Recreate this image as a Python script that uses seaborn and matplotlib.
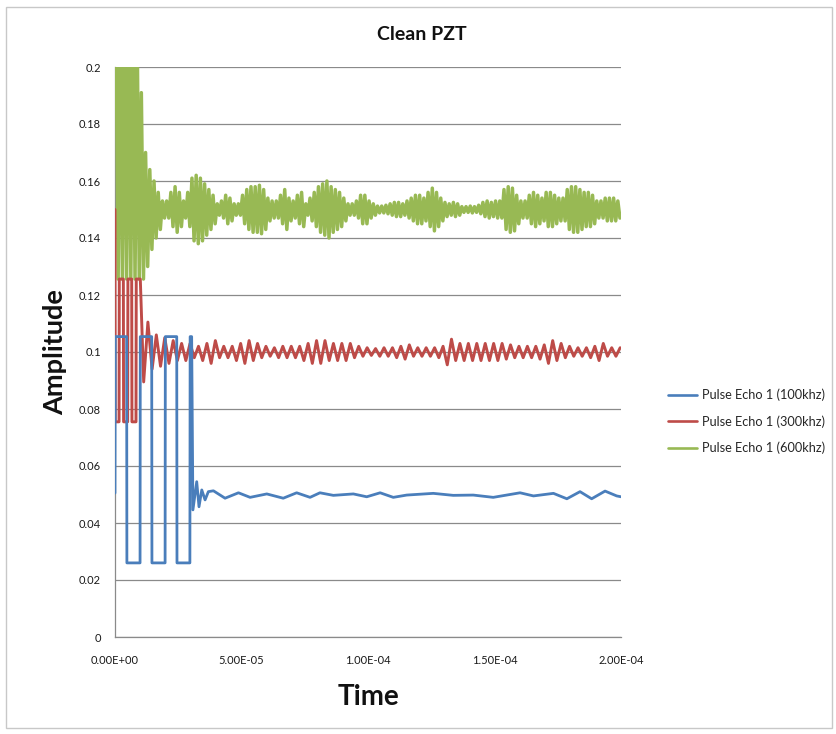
import numpy as np
import pandas as pd
import matplotlib
matplotlib.use("Agg")
import matplotlib.pyplot as plt
import seaborn as sns
from matplotlib.ticker import FuncFormatter, MultipleLocator
from matplotlib.lines import Line2D

# ---------------- data ----------------
series_names = ["Pulse Echo 1 (100khz)", "Pulse Echo 1 (300khz)", "Pulse Echo 1 (600khz)"]
series_colors = ["#4A7EBB", "#BE4B48", "#98B954"]

# 100 kHz echo: time (microseconds) / amplitude breakpoints
blue_t_us = [0.0, 0.1, 4.6, 4.7, 9.9, 10.0, 14.5, 14.6, 19.8, 19.9,
             24.4, 24.5, 29.6, 29.7, 30.3, 30.8, 32.3, 33.2, 34.3, 35.6,
             36.9, 38.9, 43.5, 48.8, 53.4, 60.0, 66.5, 71.8, 77.1, 81.0,
             86.3, 94.2, 99.5, 104.8, 110.0, 115.3, 125.8, 133.7, 141.6, 149.5,
             154.8, 160.1, 165.4, 173.3, 178.6, 183.8, 188.4, 193.7, 198.3, 200.0]
blue_v = [0.0505, 0.1054, 0.1054, 0.0260, 0.0260, 0.1054, 0.1054, 0.0260, 0.0260, 0.1054,
          0.1054, 0.0260, 0.0260, 0.1054, 0.1054, 0.0446, 0.0545, 0.0457, 0.0516, 0.0481,
          0.0510, 0.0513, 0.0487, 0.0506, 0.0490, 0.0502, 0.0487, 0.0506, 0.0490, 0.0506,
          0.0497, 0.0502, 0.0492, 0.0506, 0.0490, 0.0498, 0.0504, 0.0497, 0.0498, 0.0490,
          0.0498, 0.0506, 0.0495, 0.0504, 0.0485, 0.0510, 0.0485, 0.0512, 0.0495, 0.0492]

# 300 kHz echo: saturated burst, then per-cycle ringing amplitude around the baseline
red_head_t_us = [0.0, 0.1, 1.6, 1.7, 3.3, 3.4, 5.0, 5.1, 6.6, 6.7, 8.3, 8.4, 10.0]
red_head_v = [0.150, 0.0755, 0.0755, 0.1256, 0.1256, 0.0755, 0.0755, 0.1256, 0.1256,
              0.0755, 0.0755, 0.1256, 0.1256]
red_center = 0.100
red_tail_start_us = 10.5
red_freq_khz = 300
red_amp = [0.0105, 0.006, 0.005, 0.004, 0.003, 0.003, 0.002, 0.003, 0.004, 0.002,
           0.002, 0.003, 0.004, 0.003, 0.002, 0.0015, 0.002, 0.002, 0.002, 0.003,
           0.004, 0.004, 0.003, 0.003, 0.003, 0.002, 0.0015, 0.0012, 0.0015, 0.0015,
           0.002, 0.0025, 0.0015, 0.0015, 0.0015, 0.002, 0.0045, 0.003, 0.003, 0.003,
           0.003, 0.003, 0.003, 0.0025, 0.002, 0.002, 0.002, 0.0025, 0.004, 0.003,
           0.002, 0.0015, 0.0015, 0.002, 0.003, 0.0015, 0.0015]

# 600 kHz echo: per-cycle peaks (first cycles) and per-cycle amplitude around baseline
green_center = 0.150
green_freq_khz = 600
green_head_hi = [0.215, 0.215, 0.215, 0.215, 0.215, 0.215, 0.191, 0.170, 0.164, 0.160, 0.156, 0.153]
green_head_lo = [0.1256, 0.1256, 0.1256, 0.1256, 0.1256, 0.1256, 0.1256, 0.130, 0.136, 0.140, 0.143, 0.147]
green_amp = [0.003, 0.006, 0.008, 0.006, 0.003, 0.006, 0.011, 0.012, 0.011, 0.009,
             0.007, 0.005, 0.002, 0.003, 0.005, 0.004, 0.002, 0.002, 0.005, 0.007,
             0.008, 0.008, 0.0085, 0.007, 0.004, 0.003, 0.003, 0.005, 0.007, 0.004,
             0.003, 0.005, 0.006, 0.002, 0.004, 0.006, 0.008, 0.009, 0.010, 0.008,
             0.007, 0.006, 0.004, 0.002, 0.002, 0.003, 0.005, 0.005, 0.003, 0.002,
             0.0012, 0.0012, 0.0015, 0.002, 0.0025, 0.0025, 0.002, 0.003, 0.004, 0.005,
             0.005, 0.004, 0.006, 0.0075, 0.006, 0.004, 0.0025, 0.002, 0.0025, 0.002,
             0.001, 0.001, 0.0012, 0.001, 0.0015, 0.0025, 0.003, 0.0025, 0.003, 0.003,
             0.007, 0.008, 0.0075, 0.005, 0.003, 0.003, 0.005, 0.006, 0.005, 0.004,
             0.006, 0.006, 0.005, 0.004, 0.004, 0.007, 0.008, 0.008, 0.007, 0.006,
             0.006, 0.005, 0.003, 0.003, 0.004, 0.004, 0.004, 0.003]

x_ticks = [0.0, 5e-5, 1e-4, 1.5e-4, 2e-4]

# ---------------- build tables ----------------
def blue_table():
    return pd.DataFrame({"t": np.array(blue_t_us) * 1e-6, "v": blue_v})

def red_table():
    t = list(red_head_t_us)
    v = list(red_head_v)
    per = 1000.0 / red_freq_khz
    for j, a in enumerate(red_amp):
        t0 = red_tail_start_us + j * per
        t += [t0 + 0.25 * per, t0 + 0.75 * per]
        v += [red_center - a, red_center + a]
    return pd.DataFrame({"t": np.array(t) * 1e-6, "v": v})

def green_table():
    per = 1000.0 / green_freq_khz
    t, v = [], []
    for k, (hi, lo) in enumerate(zip(green_head_hi, green_head_lo)):
        t0 = k * per
        t += [t0 + 0.25 * per, t0 + 0.75 * per]
        v += [hi, lo]
    n0 = len(green_head_hi)
    for j, a in enumerate(green_amp):
        t0 = (n0 + j) * per
        t += [t0 + 0.25 * per, t0 + 0.75 * per]
        v += [green_center + a, green_center - a]
    return pd.DataFrame({"t": np.array(t) * 1e-6, "v": v})

tables = [blue_table(), red_table(), green_table()]

# ---------------- plot ----------------
sns.set_theme(style="white")
plt.rcParams["font.family"] = ["Lato", "DejaVu Sans"]

W, H = 836, 734
fig = plt.figure(figsize=(W / 100, H / 100), dpi=100)
fig.patch.set_facecolor("white")
ax = fig.add_axes([115 / W, 1 - 637 / H, 506 / W, 570 / H])

zorders = [5, 4, 3]
widths = [2.0, 2.1, 2.5]
for df, name, col, z, lw in zip(tables, series_names, series_colors, zorders, widths):
    sns.lineplot(data=df, x="t", y="v", ax=ax, color=col, linewidth=lw,
                 sort=False, estimator=None, legend=False, zorder=z)

ax.set_xlim(0, 2e-4)
ax.set_ylim(0, 0.2)
ax.set_xticks(x_ticks)
ax.yaxis.set_major_locator(MultipleLocator(0.02))
ax.xaxis.set_major_formatter(FuncFormatter(lambda v, p: f"{v:.2E}"))
ax.yaxis.set_major_formatter(FuncFormatter(lambda v, p: f"{round(v, 2):g}"))
ax.set_xlabel("")
ax.set_ylabel("")

gray = "#8a8a8a"
ax.grid(axis="y", color=gray, linewidth=0.9)
ax.grid(axis="x", visible=False)
for s in ["top", "right"]:
    ax.spines[s].set_visible(False)
for s in ["left", "bottom"]:
    ax.spines[s].set_color(gray)
    ax.spines[s].set_linewidth(0.9)
ax.tick_params(axis="both", direction="out", length=4, width=0.9, color=gray,
               labelsize=8, labelcolor="#1a1a1a")
ax.tick_params(axis="x", pad=9)
ax.tick_params(axis="y", pad=6)
ax.set_axisbelow(True)

fig.text(422 / W, 1 - 35 / H, "Clean PZT", ha="center", va="center",
         fontsize=14, fontweight="bold", color="#111111")
fig.text(55 / W, 1 - 352 / H, "Amplitude", ha="center", va="center", rotation=90,
         fontsize=19.5, fontweight="bold", color="#111111")
fig.text(368 / W, 1 - 697 / H, "Time", ha="center", va="center",
         fontsize=20, fontweight="bold", color="#111111")

handles = [Line2D([0], [0], color=c, lw=1.9) for c in series_colors]
fig.legend(handles, series_names, loc="center left",
           bbox_to_anchor=(668 / W, 1 - 421.5 / H), frameon=False, fontsize=9.2,
           handlelength=2.3, handletextpad=0.35, labelspacing=1.1,
           borderpad=0, borderaxespad=0)

# chart frame
fig.add_artist(plt.Rectangle((6 / W, 1 - 728 / H), 826 / W, 721 / H,
                             transform=fig.transFigure, fill=False,
                             edgecolor="#c8c8c8", linewidth=1.0))

fig.savefig("out.png", dpi=100, facecolor="white")
